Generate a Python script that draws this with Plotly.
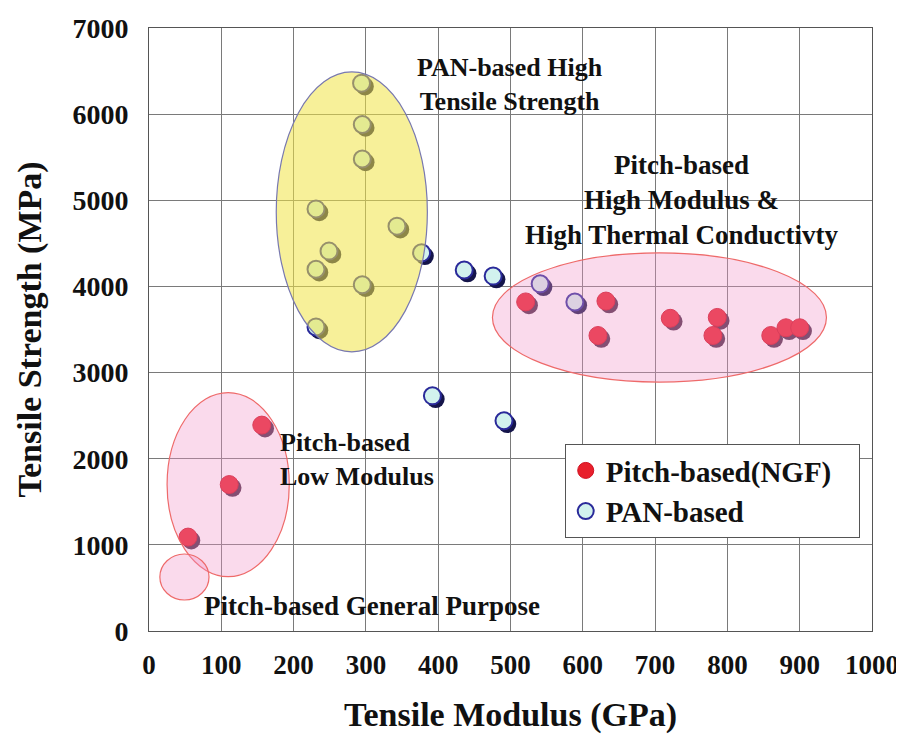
import plotly.graph_objects as go

# Data
pitch_x = [54, 111, 156, 521, 632, 621, 721, 786, 780, 860, 881, 900]
pitch_y = [1090, 1700, 2390, 3820, 3830, 3430, 3630, 3640, 3430, 3430, 3520, 3520]
pan_x = [294, 295, 295, 231, 343, 249, 377, 231, 295, 231, 436, 476, 541, 589, 392, 491]
pan_y = [6360, 5880, 5480, 4900, 4700, 4410, 4390, 4200, 4020, 3530, 4190, 4120, 4030, 3820, 2730, 2440]

x_ticks = [0, 100, 200, 300, 400, 500, 600, 700, 800, 900, 1000]
y_ticks = [0, 1000, 2000, 3000, 4000, 5000, 6000, 7000]

FONT = "Liberation Serif"

# shadow offsets in data units (approx 3 px)
dx, dy = 4.5, -38

fig = go.Figure()
fig.add_trace(go.Scatter(x=[v + dx for v in pitch_x], y=[v + dy for v in pitch_y], mode="markers",
                         marker=dict(size=18, color="#4a2a45"), showlegend=False, hoverinfo="skip"))
fig.add_trace(go.Scatter(x=[v + dx for v in pan_x], y=[v + dy for v in pan_y], mode="markers",
                         marker=dict(size=18, color="#15154a"), showlegend=False, hoverinfo="skip"))
fig.add_trace(go.Scatter(x=pitch_x, y=pitch_y, mode="markers", name="<b>Pitch-based(NGF)</b>&nbsp;&nbsp;&nbsp;",
                         legendgroup="a",
                         marker=dict(size=18, color="#e8202c", line=dict(color="#d01020", width=1))))
fig.add_trace(go.Scatter(x=pan_x, y=pan_y, mode="markers", name="<b>PAN-based</b>",
                         legendgroup="b",
                         marker=dict(size=17, color="#d2f2ee", line=dict(color="#2a2a9a", width=2))))

# Ellipses
fig.add_shape(type="circle", xref="x", yref="y", x0=176, x1=385, y0=3240, y1=6490,
              fillcolor="rgba(240,228,70,0.55)", line=dict(color="#7878b0", width=1.2), layer="above")
fig.add_shape(type="circle", xref="x", yref="y", x0=475, x1=937, y0=2890, y1=4390,
              fillcolor="rgba(240,150,200,0.35)", line=dict(color="#ee6a6a", width=1.2), layer="above")
fig.add_shape(type="circle", xref="x", yref="y", x0=25, x1=194, y0=631, y1=2768,
              fillcolor="rgba(240,150,200,0.35)", line=dict(color="#ee6a6a", width=1.2), layer="above")
fig.add_shape(type="circle", xref="x", yref="y", x0=15, x1=83, y0=360, y1=894,
              fillcolor="rgba(240,150,200,0.35)", line=dict(color="#ee6a6a", width=1.2), layer="above")

afont = dict(family=FONT, size=26, color="#111111")
fig.add_annotation(x=499, y=6345, text="<b>PAN-based High<br>Tensile Strength</b>", showarrow=False,
                   font=afont, xanchor="center", yanchor="middle", align="center")
fig.add_annotation(x=737, y=5006, text="<b>Pitch-based<br>High Modulus &<br>High Thermal Conductivty</b>",
                   showarrow=False, font=dict(family=FONT, size=27, color="#111111"),
                   xanchor="center", yanchor="middle", align="center")
fig.add_annotation(x=178, y=1986, text="<b>Pitch-based<br>Low Modulus</b>", showarrow=False,
                   font=afont, xanchor="left", yanchor="middle", align="left")
fig.add_annotation(x=73, y=290, text="<b>Pitch-based General Purpose</b>", showarrow=False,
                   font=dict(family=FONT, size=27, color="#111111"), xanchor="left", yanchor="middle", align="left")

fig.update_layout(
    width=904, height=738,
    margin=dict(l=141, r=40, t=20, b=115),
    paper_bgcolor="white", plot_bgcolor="white",
    font=dict(family=FONT, color="#111111"),
    legend=dict(x=0.575, y=0.31, xanchor="left", yanchor="top",
                bordercolor="#555555", borderwidth=1, bgcolor="white",
                font=dict(family=FONT, size=29, color="#111111"),
                tracegroupgap=0, traceorder="grouped",
                itemsizing="trace"),
    xaxis=dict(range=[0, 1000], tickvals=x_ticks, ticktext=[f"<b>{v}</b>" for v in x_ticks],
               showgrid=True, gridcolor="#7a7a7a", gridwidth=1, zeroline=False,
               showline=True, linecolor="#555555", linewidth=1, mirror=True, ticks="",
               ticklabelstandoff=10, automargin=False, ticklabeloverflow="allow",
               tickfont=dict(family=FONT, size=27, color="#111111"),
               title=dict(text="<b>Tensile Modulus (GPa)</b>", font=dict(family=FONT, size=34, color="#111111"),
                          standoff=22)),
    yaxis=dict(range=[0, 7000], tickvals=y_ticks, ticktext=[f"<b>{v}</b>" for v in y_ticks],
               showgrid=True, gridcolor="#7a7a7a", gridwidth=1, zeroline=False,
               showline=True, linecolor="#555555", linewidth=1, mirror=True, ticks="",
               ticklabelstandoff=14, automargin=False, ticklabeloverflow="allow",
               tickfont=dict(family=FONT, size=28, color="#111111"),
               title=dict(text="<b>Tensile Strength (MPa)</b>", font=dict(family=FONT, size=34, color="#111111"),
                          standoff=20)),
)

fig.write_html("out.html")
